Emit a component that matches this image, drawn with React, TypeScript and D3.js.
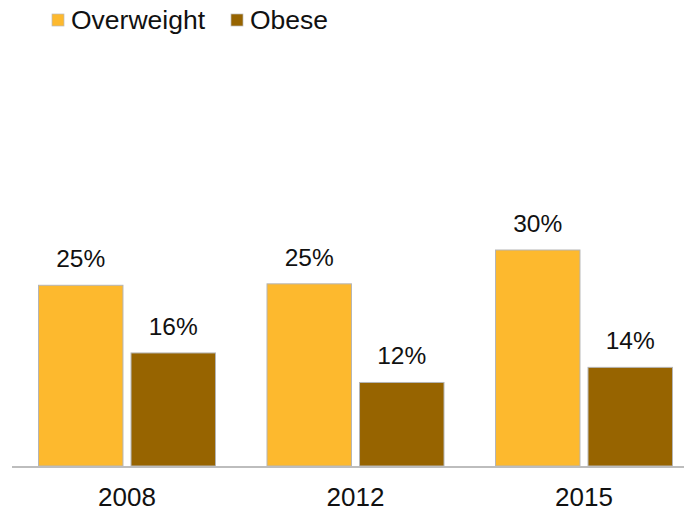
import React from "react";
import * as d3 from "d3";

const categories = ["2008", "2012", "2015"];
const seriesNames = ["Overweight", "Obese"];
const overweight = [25.1, 25.3, 30.0];
const obese = [15.7, 11.6, 13.7];
const labelsOverweight = ["25%", "25%", "30%"];
const labelsObese = ["16%", "12%", "14%"];
const colors = ["#FDB92E", "#976400"];

const W = 684;
const H = 512;
const baseY = 466;

export default function App() {
  const x = d3
    .scaleBand<string>()
    .domain(categories)
    .range([12.75, 12.75 + 3 * 228.5])
    .paddingInner(0.2254)
    .paddingOuter(0.1127);
  const inner = d3
    .scaleBand<string>()
    .domain(seriesNames)
    .range([0, x.bandwidth()])
    .paddingInner(0.087);
  const y = d3.scaleLinear().domain([0, 30]).range([baseY, baseY - 216]);

  const series = [overweight, obese];
  const labels = [labelsOverweight, labelsObese];
  const font = "'Liberation Sans', Arial, sans-serif";

  return (
    <svg
      width={W}
      height={H}
      style={{ position: "absolute", left: 0, top: 0, background: "#fff" }}
      fontFamily={font}
    >
      {/* legend */}
      {seriesNames.map((s, i) => {
        const lx = i === 0 ? 52 : 231;
        return (
          <g key={s}>
            <rect x={lx} y={14} width={12} height={12} fill={colors[i]} stroke="#bbb" strokeWidth={0.7} />
            <text x={lx + 19} y={28.5} fontSize={26.5} fill="#111">
              {s}
            </text>
          </g>
        );
      })}
      {/* bars */}
      {categories.map((c, ci) => (
        <g key={c} transform={`translate(${x(c)},0)`}>
          {seriesNames.map((s, si) => {
            const v = series[si][ci];
            const bx = inner(s)!;
            const bw = inner.bandwidth();
            return (
              <g key={s}>
                <rect
                  x={bx}
                  y={y(v)}
                  width={bw}
                  height={baseY - y(v)}
                  fill={colors[si]}
                  stroke="#b5b5b5"
                  strokeWidth={1}
                />
                <text
                  x={bx + bw / 2}
                  y={y(v) - 18}
                  fontSize={24.5}
                  textAnchor="middle"
                  fill="#111"
                >
                  {labels[si][ci]}
                </text>
              </g>
            );
          })}
          <text
            x={x.bandwidth() / 2}
            y={506}
            fontSize={26}
            textAnchor="middle"
            fill="#111"
          >
            {c}
          </text>
        </g>
      ))}
      {/* axis */}
      <line x1={12} x2={W} y1={baseY + 1} y2={baseY + 1} stroke="#bdbdbd" strokeWidth={2} />
    </svg>
  );
}
